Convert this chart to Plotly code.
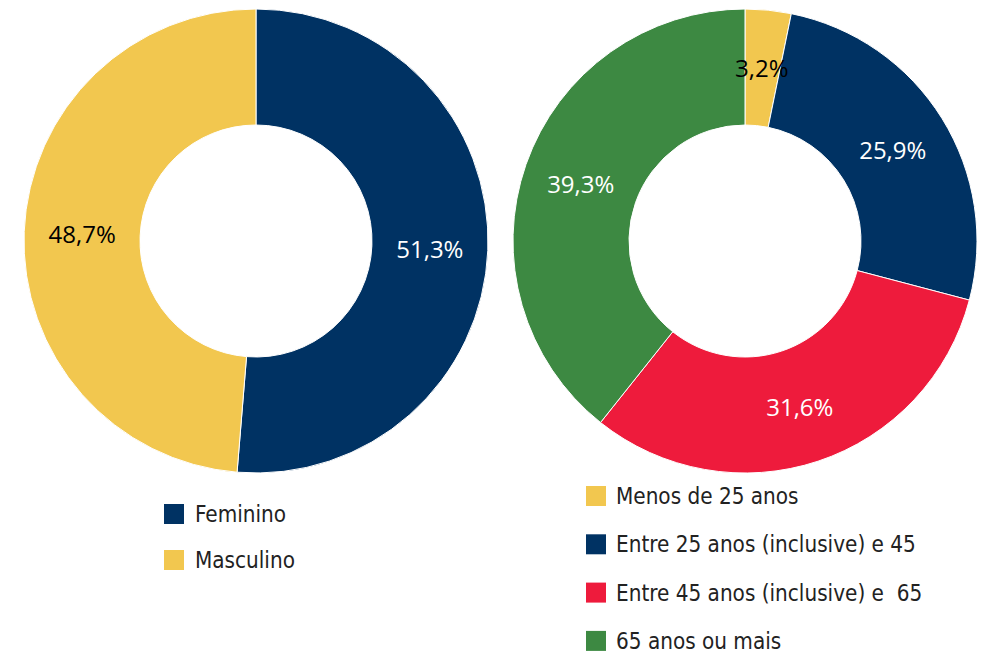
import math
import plotly.graph_objects as go

# Data
sex_labels = ["Feminino", "Masculino"]
sex_values = [51.3, 48.7]
sex_colors = ["#003263", "#F2C74F"]
sex_text_colors = ["white", "black"]

age_labels = ["Menos de 25 anos", "Entre 25 anos (inclusive) e 45",
              "Entre 45 anos (inclusive) e  65", "65 anos ou mais"]
age_values = [3.2, 25.9, 31.6, 39.3]
age_colors = ["#F2C74F", "#003263", "#EE1B3C", "#3D8942"]
age_text_colors = ["black", "white", "white", "white"]

W, H = 982, 653
LABEL_FONT = "Open Sans, Noto Sans, sans-serif"
LEGEND_FONT = "DejaVu Sans Condensed, Liberation Sans, sans-serif"
LABEL_SIZE = 24
LEGEND_SIZE = 22.3
HOLE = 0.5

def px_x(v):
    return v / W

def px_y(v):
    return 1 - v / H

# pie geometry (pixels)
LEFT_DOM = (24, 488)
RIGHT_DOM = (513, 977)
TOP, BOTTOM = 9, 473

fig = go.Figure()

common = dict(
    hole=HOLE, sort=False, direction="clockwise", rotation=0,
    textposition="inside", insidetextorientation="horizontal",
    showlegend=False, hoverinfo="label+value",
)

def fmt(v):
    return f"{v:.1f}".replace(".", ",") + "%"

fig.add_trace(go.Pie(
    labels=sex_labels, values=sex_values,
    text=[fmt(v) for v in sex_values], textinfo="text",
    marker=dict(colors=sex_colors, line=dict(color="white", width=1)),
    textfont=dict(family=LABEL_FONT, size=LABEL_SIZE, color=sex_text_colors),
    domain=dict(x=[px_x(LEFT_DOM[0]), px_x(LEFT_DOM[1])], y=[px_y(BOTTOM), px_y(TOP)]),
    **common,
))

# small slices whose label overflows get an annotation placed at mid-ring instead
total_age = sum(age_values)
small = [v / total_age < 0.06 for v in age_values]
fig.add_trace(go.Pie(
    labels=age_labels, values=age_values,
    text=["" if s else fmt(v) for v, s in zip(age_values, small)], textinfo="text",
    marker=dict(colors=age_colors, line=dict(color="white", width=1)),
    textfont=dict(family=LABEL_FONT, size=LABEL_SIZE, color=age_text_colors),
    domain=dict(x=[px_x(RIGHT_DOM[0]), px_x(RIGHT_DOM[1])], y=[px_y(BOTTOM), px_y(TOP)]),
    **common,
))

annotations = []
shapes = []

cx = (RIGHT_DOM[0] + RIGHT_DOM[1]) / 2
cy = (TOP + BOTTOM) / 2
R = (RIGHT_DOM[1] - RIGHT_DOM[0]) / 2
r_mid = R * (1 + HOLE) / 2
cum = 0.0
for v, s, col in zip(age_values, small, age_text_colors):
    mid = (cum + v / 2) / total_age * 2 * math.pi
    cum += v
    if s:
        x = cx + r_mid * math.sin(mid)
        y = cy - r_mid * math.cos(mid)
        annotations.append(dict(
            xref="paper", yref="paper", x=px_x(x), y=px_y(y),
            xanchor="center", yanchor="middle", text=fmt(v), showarrow=False,
            font=dict(family=LABEL_FONT, size=LABEL_SIZE, color=col),
        ))

# Manual legends (layout elements)
def add_legend(labels, colors, sq_x, text_x, y0, dy):
    for i, (lab, col) in enumerate(zip(labels, colors)):
        yc = y0 + i * dy
        shapes.append(dict(
            type="rect", xref="paper", yref="paper",
            x0=px_x(sq_x), x1=px_x(sq_x + 20),
            y0=px_y(yc + 10), y1=px_y(yc - 10),
            fillcolor=col, line=dict(width=0),
        ))
        annotations.append(dict(
            xref="paper", yref="paper", x=px_x(text_x), y=px_y(yc),
            xanchor="left", yanchor="middle", text=lab, showarrow=False,
            font=dict(family=LEGEND_FONT, size=LEGEND_SIZE, color="#222222"),
        ))

add_legend(sex_labels, sex_colors, 164, 193, 514, 46)
add_legend(age_labels, age_colors, 586, 614, 496, 48.3)

fig.update_layout(
    width=W, height=H,
    margin=dict(l=0, r=0, t=0, b=0),
    paper_bgcolor="white", plot_bgcolor="white",
    uniformtext=dict(minsize=LABEL_SIZE, mode="show"),
    shapes=shapes, annotations=annotations,
)

fig.write_html(
    "out.html",
    config={"displayModeBar": False},
    post_script="document.body.style.margin='0';document.body.style.overflow='hidden';",
)
